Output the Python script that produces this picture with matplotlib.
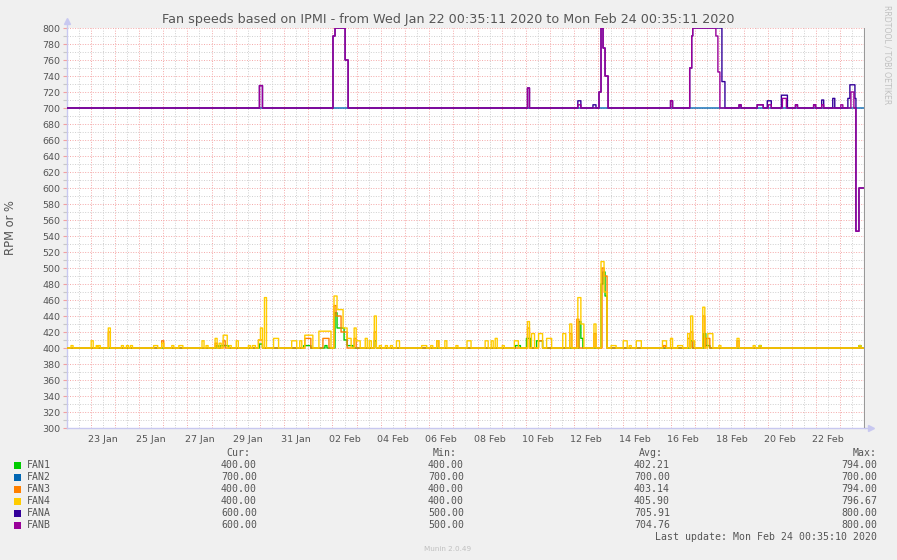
import numpy as np
import matplotlib
matplotlib.use('Agg')
import matplotlib.pyplot as plt
from datetime import datetime, timedelta

# ---------------- data ----------------
START = datetime(2020, 1, 22, 0, 35, 11)
END = datetime(2020, 2, 24, 0, 35, 11)
TOTAL_HOURS = int((END - START).total_seconds() // 3600)  # 792

names = ['FAN1', 'FAN2', 'FAN3', 'FAN4', 'FANA', 'FANB']
colors = ['#00cc00', '#0066b3', '#ff8000', '#ffcc00', '#330099', '#990099']
baselines = [400, 700, 400, 400, 700, 700]

# spikes: (start hour, end hour, value)
fan1_spikes = [(148, 150, 403), (152, 160, 403), (191, 194, 405), (235, 242, 403),
               (256, 258, 403), (266, 268, 444), (268, 275, 425), (275, 278, 410),
               (278, 284, 403), (305, 307, 409), (445, 450, 403), (456, 460, 412),
               (466, 472, 409), (508, 510, 433), (510, 512, 412), (530, 532, 480),
               (532, 534, 495), (534, 536, 465), (619, 621, 409), (632, 634, 418),
               (634, 638, 403), (687, 689, 403), (786, 788, 403)]
fan2_spikes = []
fan3_spikes = [(41, 43, 420), (94, 96, 409), (147, 149, 406), (155, 157, 409),
               (190, 194, 410), (236, 242, 412), (254, 260, 412), (265, 267, 453),
               (267, 272, 440), (272, 278, 420), (285, 287, 412), (305, 307, 420),
               (367, 369, 409), (457, 459, 425), (468, 472, 409), (499, 501, 418),
               (506, 508, 436), (523, 525, 418), (531, 533, 500), (533, 536, 490),
               (592, 594, 403), (616, 618, 412), (619, 621, 420), (631, 633, 440),
               (634, 638, 412), (665, 667, 409)]
fan4_spikes = [(4, 6, 403), (24, 26, 409), (29, 30, 403), (31, 33, 403), (41, 43, 425),
               (54, 56, 403), (59, 61, 403), (63, 65, 403), (86, 90, 403), (94, 96, 406),
               (104, 106, 403), (111, 115, 403), (134, 136, 409), (138, 140, 403),
               (147, 149, 412), (151, 153, 406), (155, 159, 416), (161, 163, 403),
               (168, 170, 409), (180, 182, 403), (184, 187, 403), (190, 192, 410),
               (192, 194, 425), (196, 198, 463), (205, 210, 412), (223, 228, 409),
               (231, 233, 409), (236, 244, 416), (250, 262, 421), (265, 268, 465),
               (268, 274, 448), (274, 278, 425), (278, 282, 412), (285, 287, 425),
               (287, 291, 409), (296, 298, 412), (300, 302, 409), (305, 307, 440),
               (310, 312, 403), (316, 318, 403), (321, 323, 403), (327, 330, 409),
               (352, 357, 403), (361, 363, 403), (367, 369, 409), (375, 377, 409),
               (386, 388, 403), (397, 401, 409), (415, 418, 409), (421, 423, 409),
               (425, 427, 412), (432, 434, 403), (444, 448, 409), (457, 459, 433),
               (461, 464, 418), (468, 472, 418), (476, 481, 412), (492, 495, 418),
               (499, 501, 430), (507, 510, 463), (510, 513, 430), (523, 525, 430),
               (530, 533, 508), (533, 536, 470), (540, 545, 403), (552, 556, 409),
               (558, 560, 403), (565, 570, 409), (591, 595, 409), (599, 601, 412),
               (606, 611, 403), (616, 618, 418), (619, 621, 440), (621, 623, 409),
               (631, 633, 451), (636, 641, 418), (647, 649, 403), (665, 667, 412),
               (681, 683, 403), (687, 689, 403), (786, 788, 403)]
fana_spikes = [(191, 194, 728), (264, 266, 790), (266, 276, 800), (276, 279, 760),
               (457, 459, 725), (507, 510, 709), (522, 525, 704), (528, 530, 720),
               (530, 532, 800), (532, 534, 775), (534, 537, 740), (599, 601, 709),
               (618, 620, 750), (620, 621, 790), (621, 650, 800), (650, 653, 733),
               (667, 669, 704), (685, 691, 704), (695, 699, 709), (709, 715, 716),
               (723, 725, 704), (741, 743, 704), (749, 751, 710), (760, 762, 712),
               (775, 777, 712), (777, 782, 729), (782, 783, 712), (783, 786, 546),
               (786, 792, 600)]
fanb_spikes = [(191, 194, 728), (264, 266, 790), (266, 276, 800), (276, 279, 760),
               (457, 459, 725), (507, 510, 704), (528, 530, 720), (530, 532, 800),
               (532, 534, 775), (534, 537, 740), (599, 601, 709), (618, 620, 750),
               (620, 621, 790), (621, 644, 800), (644, 646, 790), (646, 648, 745),
               (667, 669, 704), (685, 691, 704), (696, 699, 704), (710, 714, 712),
               (723, 725, 704), (741, 743, 704), (749, 751, 704), (768, 770, 704),
               (778, 781, 720), (783, 786, 546), (786, 792, 600)]
spikes = [fan1_spikes, fan2_spikes, fan3_spikes, fan4_spikes, fana_spikes, fanb_spikes]

cur_vals = ['400.00', '700.00', '400.00', '400.00', '600.00', '600.00']
min_vals = ['400.00', '700.00', '400.00', '400.00', '500.00', '500.00']
avg_vals = ['402.21', '700.00', '403.14', '405.90', '705.91', '704.76']
max_vals = ['794.00', '700.00', '794.00', '796.67', '800.00', '800.00']

x_label_days = [datetime(2020, 1, 23) + timedelta(days=2 * i) for i in range(16)]
y_min, y_max, y_step = 300, 800, 20

title = 'Fan speeds based on IPMI - from Wed Jan 22 00:35:11 2020 to Mon Feb 24 00:35:11 2020'
ylabel = 'RPM or %'
last_update = 'Last update: Mon Feb 24 00:35:10 2020'
footer = 'Munin 2.0.49'
watermark = 'RRDTOOL / TOBI OETIKER'

# ---------------- figure ----------------
W, H = 897, 560
fig = plt.figure(figsize=(W / 100, H / 100), dpi=100, facecolor='#f0f0f0')
L, R, T, B = 67, 865, 28, 428
ax = fig.add_axes([L / W, 1 - B / H, (R - L) / W, (B - T) / H])
ax.set_facecolor('white')


def hours(dt):
    return (dt - START).total_seconds() / 3600.0


# grid lines
dot = (0, (1, 1.6))
for k in range(1, 34):
    mid = hours(datetime(2020, 1, 22) + timedelta(days=k))
    noon = hours(datetime(2020, 1, 22, 12) + timedelta(days=k - 1))
    if 0 < mid < TOTAL_HOURS:
        ax.axvline(mid, color='#f4a8a8', lw=0.7, ls=dot, zorder=1)
    if 0 < noon < TOTAL_HOURS:
        ax.axvline(noon, color='#cfcfcf', lw=0.7, ls=dot, zorder=1)
for v in range(y_min, y_max + 1, 10):
    if v == y_min:
        continue
    if v % y_step == 0:
        ax.axhline(v, color='#f4a8a8', lw=0.7, ls=dot, zorder=1)
    else:
        ax.axhline(v, color='#cfcfcf', lw=0.7, ls=dot, zorder=1)

# series
t = np.arange(TOTAL_HOURS + 1)
for name, col, base, sp in zip(names, colors, baselines, spikes):
    vals = np.full(TOTAL_HOURS + 1, float(base))
    for s, e, v in sp:
        vals[s:e] = v
    ax.plot(t, vals, drawstyle='steps-post', color=col, lw=1.0, zorder=3)

# now line
ax.axvline(TOTAL_HOURS, color='#999999', lw=1.5, zorder=4)

ax.set_xlim(0, TOTAL_HOURS)
ax.set_ylim(y_min, y_max)

ax.set_yticks(list(range(y_min, y_max + 1, y_step)))
ax.set_yticks(list(range(y_min + 10, y_max, y_step)), minor=True)
ax.tick_params(axis='y', which='major', length=3, width=0.8, color='#f2a0a0',
               labelsize=6.8, labelcolor='#555555', pad=2)
ax.tick_params(axis='y', which='minor', length=3, width=0.8, color='#c8c8c8')
ax.set_xticks([hours(d + timedelta(hours=12)) for d in x_label_days])
ax.set_xticklabels([d.strftime('%d %b') for d in x_label_days])
ax.tick_params(axis='x', which='major', length=0, labelsize=6.8, labelcolor='#555555', pad=5)

for s in ['top', 'right']:
    ax.spines[s].set_visible(False)
ax.spines['left'].set_color('#c8c8f0')
ax.spines['bottom'].set_color('#c8c8f0')
ax.spines['left'].set_linewidth(1.0)
ax.spines['bottom'].set_linewidth(1.0)

# axis arrows
ax.plot([0, 0], [1.0, 1.018], transform=ax.transAxes, color='#c8c8f0', lw=1.0, clip_on=False)
ax.plot([0], [1.018], transform=ax.transAxes, marker='^', ms=4, color='#c8c8f0', clip_on=False)
ax.plot([1.0, 1.008], [0, 0], transform=ax.transAxes, color='#c8c8f0', lw=1.0, clip_on=False)
ax.plot([1.008], [0], transform=ax.transAxes, marker='>', ms=4, color='#c8c8f0', clip_on=False)


def ftext(x, y, s, **kw):
    fig.text(x / W, 1 - y / H, s, **kw)


ftext(448, 19, title, ha='center', va='center', fontsize=9.2, color='#555555')
ftext(11, 228, ylabel, ha='center', va='center', rotation=90, fontsize=8.3, color='#555555')
ftext(887, 55, watermark, ha='center', va='center', rotation=270, fontsize=5.6, color='#c0c0c0')

mono = 'DejaVu Sans Mono'
fs = 7.1
tc = '#555555'
ftext(250, 453, 'Cur:', ha='right', va='center', family=mono, fontsize=fs, color=tc)
ftext(457, 453, 'Min:', ha='right', va='center', family=mono, fontsize=fs, color=tc)
ftext(663, 453, 'Avg:', ha='right', va='center', family=mono, fontsize=fs, color=tc)
ftext(877, 453, 'Max:', ha='right', va='center', family=mono, fontsize=fs, color=tc)
for i, (name, col) in enumerate(zip(names, colors)):
    y = 465 + 12 * i
    fig.patches.append(plt.Rectangle((14 / W, 1 - (y + 3.5) / H), 7 / W, 7 / H,
                                     transform=fig.transFigure, facecolor=col, edgecolor='none'))
    ftext(27, y, name, ha='left', va='center', family=mono, fontsize=fs, color=tc)
    ftext(257, y, cur_vals[i], ha='right', va='center', family=mono, fontsize=fs, color=tc)
    ftext(464, y, min_vals[i], ha='right', va='center', family=mono, fontsize=fs, color=tc)
    ftext(670, y, avg_vals[i], ha='right', va='center', family=mono, fontsize=fs, color=tc)
    ftext(877, y, max_vals[i], ha='right', va='center', family=mono, fontsize=fs, color=tc)
ftext(877, 537, last_update, ha='right', va='center', family=mono, fontsize=fs, color=tc)
ftext(448, 549, footer, ha='center', va='center', fontsize=5.2, color='#c0c0c0')

fig.savefig('out.png', dpi=100, facecolor=fig.get_facecolor())
